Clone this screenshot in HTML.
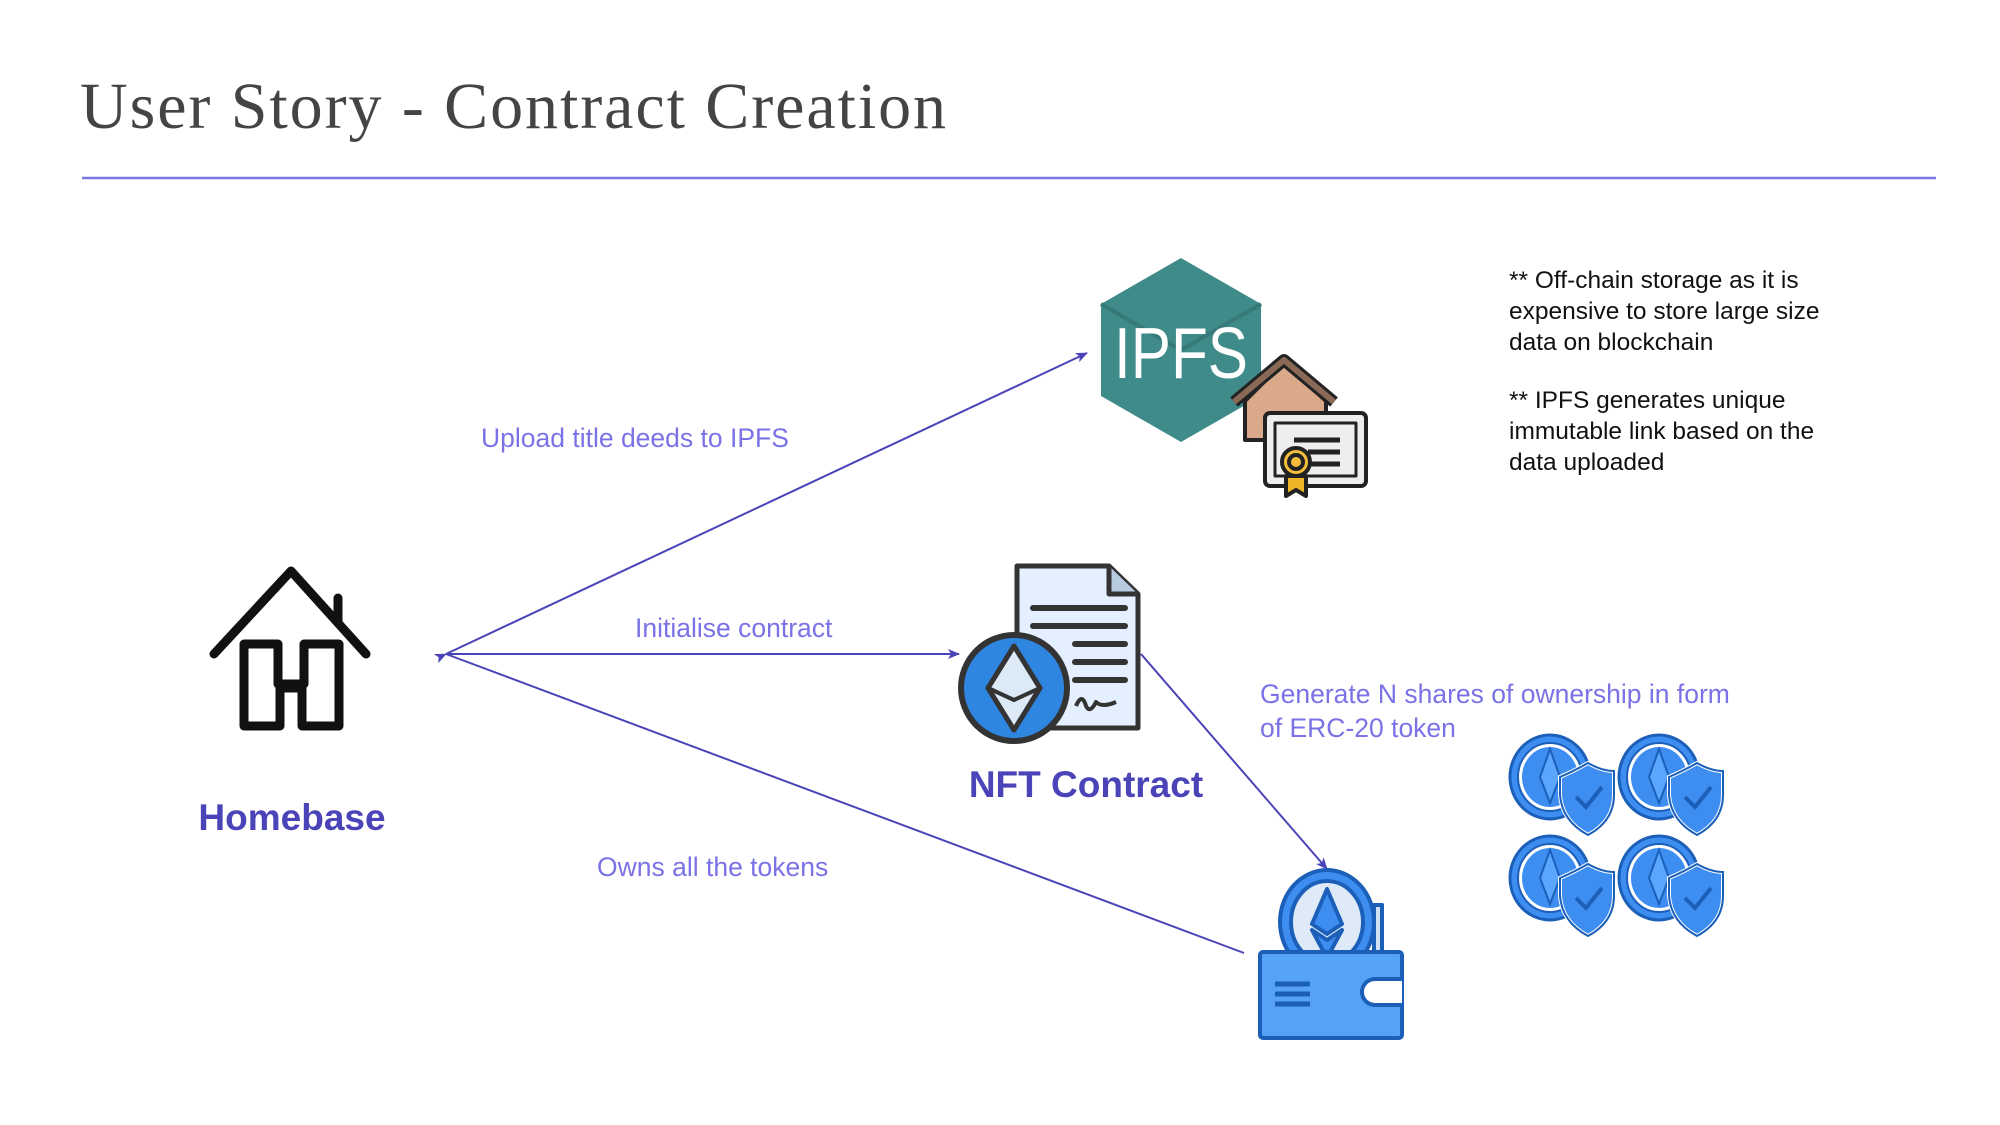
<!DOCTYPE html>
<html><head><meta charset="utf-8"><style>
html,body{margin:0;padding:0;background:#fff;}
svg{display:block;}
.lbl{font-family:"Liberation Sans",sans-serif;font-size:26.5px;fill:#7a72e6;}
.note{font-family:"Liberation Sans",sans-serif;font-size:24.5px;fill:#111;}
.big{font-family:"Liberation Sans",sans-serif;font-size:37px;font-weight:bold;fill:#4b44b8;}
</style></head><body>
<svg width="2000" height="1125" viewBox="0 0 2000 1125" xmlns="http://www.w3.org/2000/svg">
<defs>
<marker id="ah" markerWidth="12" markerHeight="10" refX="11" refY="5" orient="auto" markerUnits="userSpaceOnUse">
<path d="M0,0 L12,5 L0,10 L3,5 Z" fill="#4b44b8"/></marker>
</defs>
<text x="80" y="128" font-family="'Liberation Serif',serif" font-size="66" fill="#444" textLength="866">User Story - Contract Creation</text>
<line x1="82" y1="178" x2="1936" y2="178" stroke="#7b76e0" stroke-width="2.5"/>

<g stroke="#4b44b8" stroke-width="2" fill="none">
<line x1="446" y1="654" x2="1087" y2="353" marker-end="url(#ah)" marker-start="url(#ah)"/>
<line x1="446" y1="654" x2="959" y2="654" marker-end="url(#ah)"/>
<line x1="446" y1="654" x2="1244" y2="953"/>
<line x1="1141" y1="654" x2="1327" y2="869" marker-end="url(#ah)"/>
</g>

<text class="lbl" x="481" y="447">Upload title deeds to IPFS</text>
<text class="lbl" x="635" y="637">Initialise contract</text>
<text class="lbl" x="597" y="876">Owns all the tokens</text>
<text class="lbl" x="1260" y="703"><tspan x="1260">Generate N shares of ownership in form</tspan><tspan x="1260" dy="34">of ERC-20 token</tspan></text>

<g>
<text class="note" x="1509" y="288"><tspan x="1509">** Off-chain storage as it is</tspan><tspan x="1509" dy="31">expensive to store large size</tspan><tspan x="1509" dy="31">data on blockchain</tspan></text>
<text class="note" x="1509" y="408"><tspan x="1509">** IPFS generates unique</tspan><tspan x="1509" dy="31">immutable link based on the</tspan><tspan x="1509" dy="31">data uploaded</tspan></text>
</g>

<g stroke="#111" stroke-width="9" fill="none" stroke-linejoin="round" stroke-linecap="round">
<polyline points="214,654 291,571 366,654"/>
<line x1="338" y1="598" x2="338" y2="622"/>
<path d="M244,644 H278 V684 H304 V644 H339 V726 H302 V688 H280 V726 H244 Z"/>
</g>
<text class="big" x="292" y="830" text-anchor="middle">Homebase</text>

<g>
<polygon points="1181,258 1261,304 1261,396 1181,442 1101,396 1101,304" fill="#3e8b89"/>
<polyline points="1101,304 1181,350 1261,304" fill="none" stroke="#357a78" stroke-width="4"/>
<text x="1181" y="378" text-anchor="middle" font-family="'Liberation Sans',sans-serif" font-size="72" fill="#fff" textLength="134" lengthAdjust="spacingAndGlyphs">IPFS</text>
</g>
<g stroke="#222" stroke-width="4" stroke-linejoin="round">
<polygon points="1245,401 1284,362 1326,401 1326,440 1245,440" fill="#d9a98a"/>
<polyline points="1234,402 1284,360 1334,402" fill="none" stroke="#222" stroke-width="12"/>
<polyline points="1234,402 1284,360 1334,402" fill="none" stroke="#8a6a56" stroke-width="6"/>
<rect x="1265" y="413" width="101" height="73" rx="5" fill="#eee"/>
<rect x="1275" y="423" width="81" height="53" fill="none" stroke-width="3"/>
<line x1="1294" y1="440" x2="1340" y2="440" stroke-width="5"/>
<line x1="1308" y1="452" x2="1340" y2="452" stroke-width="5"/>
<line x1="1308" y1="464" x2="1340" y2="464" stroke-width="5"/>
<polygon points="1286,476 1286,496 1296,490 1306,496 1306,476" fill="#f0b429"/>
<circle cx="1296" cy="462" r="14" fill="#f5be3a"/>
<circle cx="1296" cy="462" r="7" fill="#f5be3a"/>
</g>

<g stroke="#333" stroke-width="5" stroke-linejoin="round">
<path d="M1017,566 H1109 L1138,594 V728 H1017 Z" fill="#e4efff"/>
<path d="M1109,566 V594 H1138" fill="#b8cce0"/>
<g stroke-width="6" stroke-linecap="round">
<line x1="1033" y1="608" x2="1125" y2="608"/><line x1="1033" y1="626" x2="1125" y2="626"/>
<line x1="1075" y1="644" x2="1125" y2="644"/><line x1="1075" y1="662" x2="1125" y2="662"/><line x1="1075" y1="680" x2="1125" y2="680"/>
</g>
<path d="M1076,706 q6,-14 10,0 q4,8 10,-4 q6,6 20,0" fill="none" stroke-width="4"/>
<circle cx="1014" cy="688" r="53" fill="#2f86e0" stroke-width="6"/>
<polygon points="1014,646 1040,688 1014,730 988,688" fill="#dce9f6" stroke-width="5"/>
<polyline points="988,688 1014,700 1040,688" fill="none" stroke-width="4"/>
</g>
<text class="big" x="1086" y="797" text-anchor="middle">NFT Contract</text>

<g stroke="#1c5fb8" stroke-width="4" stroke-linejoin="round">
<rect x="1374" y="905" width="8" height="50" fill="#cfe0f5"/>
<ellipse cx="1327" cy="922" rx="47" ry="52" fill="#3d8ef0"/>
<ellipse cx="1327" cy="922" rx="36" ry="41" fill="#dfeaf8"/>
<polygon points="1327,889 1342,924 1327,934 1312,924" fill="#3d8ef0"/>
<polygon points="1312,930 1327,940 1342,930 1327,958" fill="#3d8ef0"/>
<rect x="1260" y="952" width="142" height="86" rx="3" fill="#55a2f8"/>
<path d="M1402,979 H1375 a12,12 0 0 0 0,26 H1402" fill="#fff"/>
<g stroke-width="5"><line x1="1275" y1="984" x2="1310" y2="984"/><line x1="1275" y1="994" x2="1310" y2="994"/><line x1="1275" y1="1004" x2="1310" y2="1004"/></g>
</g>

<g id="tokens"></g>
</svg>
<script>
const tokenCenters = [[1556,785],[1665,785],[1556,886],[1665,886]];
const g = document.getElementById('tokens');
const NS = 'http://www.w3.org/2000/svg';
tokenCenters.forEach(([cx,cy],i)=>{
  const t = document.createElementNS(NS,'g');
  
  
  t.innerHTML =
   `<ellipse cx="${cx-6}" cy="${cy-8}" rx="40" ry="42" fill="#3d8ef0" stroke="#1c5fb8" stroke-width="3"/>
    <ellipse cx="${cx-6}" cy="${cy-8}" rx="32" ry="34" fill="#fff" stroke="#1c5fb8" stroke-width="2"/>
    <ellipse cx="${cx-6}" cy="${cy-8}" rx="28" ry="30" fill="#3d8ef0"/>
    <polygon points="${cx-6},${cy-36} ${cx+4},${cy-8} ${cx-6},${cy+18} ${cx-16},${cy-8}" fill="#5aa6ff" stroke="#1c5fb8" stroke-width="2"/>
    <path d="M${cx+4},${cy-8} q14,-6 28,-14 q14,8 26,8 v24 q0,26 -26,40 q-26,-14 -28,-40 z" fill="#3d8ef0" stroke="#fff" stroke-width="4"/>
    <path d="M${cx+4},${cy-8} q14,-6 28,-14 q14,8 26,8 v24 q0,26 -26,40 q-26,-14 -28,-40 z" fill="none" stroke="#1c5fb8" stroke-width="2"/>
    <polyline points="${cx+20},${cy+12} ${cx+30},${cy+22} ${cx+46},${cy+2}" fill="none" stroke="#1c5fb8" stroke-width="4"/>`;
  g.appendChild(t);
});
</script>
</body></html>
